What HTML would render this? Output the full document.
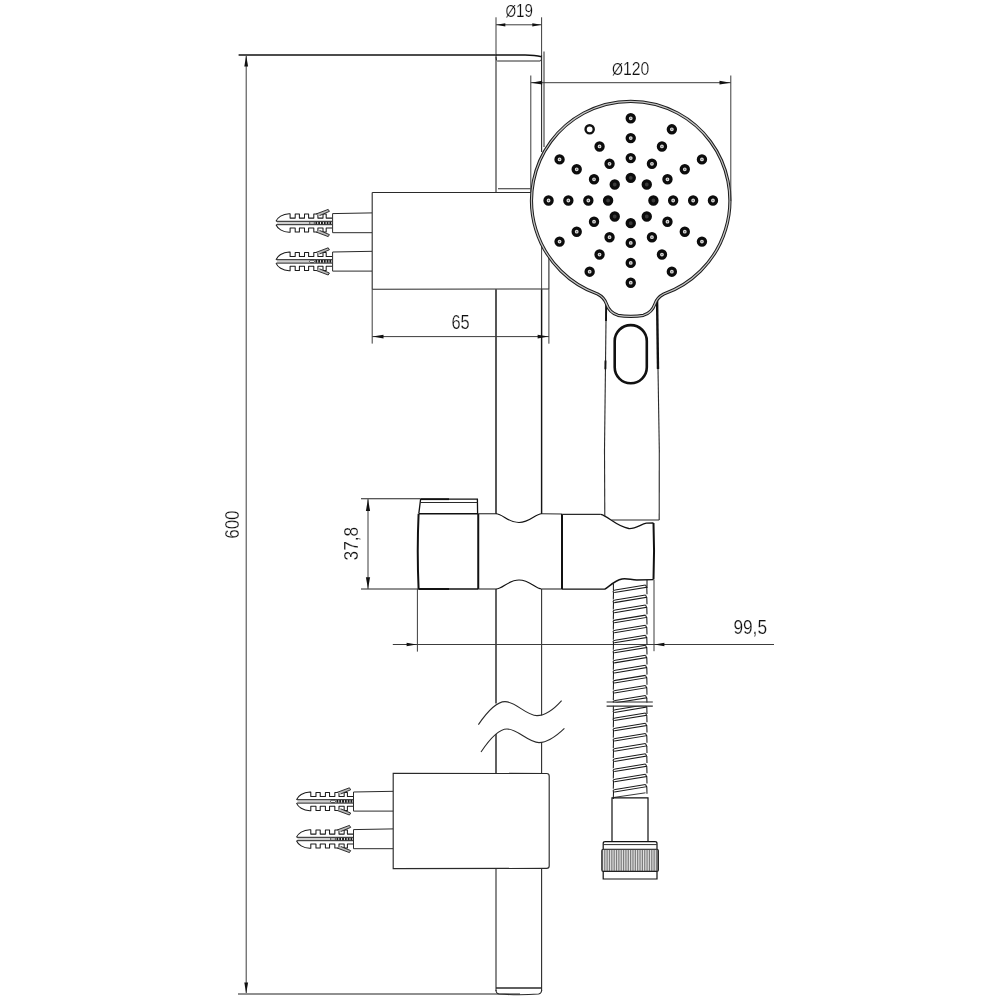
<!DOCTYPE html>
<html><head><meta charset="utf-8"><title>Shower rail set – dimensions</title>
<style>
html,body{margin:0;padding:0;background:#fff;}
svg{display:block}
text{font-family:"Liberation Sans",sans-serif;fill:#111;stroke:#fff;stroke-width:0.22px;paint-order:fill stroke;}
</style></head>
<body>
<svg width="1000" height="1000" viewBox="0 0 1000 1000" style="filter:grayscale(1)">
<rect width="1000" height="1000" fill="#fff"/>
<line x1="238.60" y1="55.00" x2="496.00" y2="55.00" stroke="#111" stroke-width="1.3" />
<line x1="238.00" y1="994.00" x2="520.00" y2="994.00" stroke="#222" stroke-width="1.1" />
<line x1="246.20" y1="56.00" x2="246.20" y2="993.00" stroke="#3c3c3c" stroke-width="1" />
<polygon points="246.20,55.50 248.10,66.50 244.30,66.50" fill="#111"/>
<polygon points="246.20,993.50 244.30,982.50 248.10,982.50" fill="#111"/>
<text x="238.80" y="524.60" font-size="19.5" text-anchor="middle" transform="rotate(-90 238.80 524.60)" textLength="28.4" lengthAdjust="spacingAndGlyphs">600</text>
<line x1="496.00" y1="17.30" x2="496.00" y2="55.00" stroke="#3c3c3c" stroke-width="1" />
<line x1="541.60" y1="17.30" x2="541.60" y2="55.00" stroke="#3c3c3c" stroke-width="1" />
<line x1="496.00" y1="24.80" x2="541.60" y2="24.80" stroke="#3c3c3c" stroke-width="1" />
<polygon points="496.30,24.80 505.30,23.20 505.30,26.40" fill="#111"/>
<polygon points="541.30,24.80 532.30,26.40 532.30,23.20" fill="#111"/>
<line x1="496.00" y1="55.00" x2="496.00" y2="192.50" stroke="#2a2a2a" stroke-width="1.1" />
<line x1="496.00" y1="289.20" x2="496.00" y2="514.00" stroke="#151515" stroke-width="1.45" />
<line x1="496.00" y1="589.00" x2="496.00" y2="703.50" stroke="#151515" stroke-width="1.35" />
<line x1="496.00" y1="734.00" x2="496.00" y2="773.00" stroke="#151515" stroke-width="1.35" />
<line x1="496.00" y1="868.50" x2="496.00" y2="991.00" stroke="#2a2a2a" stroke-width="1.1" />
<line x1="541.60" y1="55.00" x2="541.60" y2="152.00" stroke="#2a2a2a" stroke-width="1.1" />
<line x1="541.60" y1="245.50" x2="541.60" y2="289.20" stroke="#444" stroke-width="1.0" />
<line x1="541.60" y1="289.20" x2="541.60" y2="514.00" stroke="#151515" stroke-width="1.45" />
<line x1="541.60" y1="589.00" x2="541.60" y2="715.50" stroke="#333" stroke-width="1.1" />
<line x1="541.60" y1="742.80" x2="541.60" y2="773.00" stroke="#2a2a2a" stroke-width="1.1" />
<line x1="541.60" y1="868.50" x2="541.60" y2="991.00" stroke="#2a2a2a" stroke-width="1.1" />
<line x1="544.00" y1="51.50" x2="544.00" y2="147.00" stroke="#2a2a2a" stroke-width="1" />
<path d="M496.0 55 L525 55 Q535 55.2 541.5 56.8" stroke="#111" stroke-width="1.4" fill="none" />
<path d="M496.0 57 Q496.0 61 497.5 61 L540.1 61 Q541.6 61 541.6 57" stroke="#2a2a2a" stroke-width="1" fill="none" />
<line x1="496.00" y1="988.00" x2="541.60" y2="988.00" stroke="#2a2a2a" stroke-width="1.5" />
<path d="M496.0 990 Q496.0 993.5 499.0 994 Q519 995.5 538.6 994 Q541.6 993.5 541.6 990" stroke="#2a2a2a" stroke-width="1.1" fill="none" />
<line x1="372.20" y1="192.50" x2="530.80" y2="192.50" stroke="#2a2a2a" stroke-width="1.1" />
<line x1="498.00" y1="188.80" x2="530.50" y2="188.80" stroke="#2a2a2a" stroke-width="1.1" />
<line x1="372.20" y1="192.50" x2="372.20" y2="289.20" stroke="#2a2a2a" stroke-width="1.1" />
<line x1="372.20" y1="289.20" x2="548.90" y2="289.00" stroke="#2a2a2a" stroke-width="1.1" />
<line x1="548.90" y1="257.50" x2="548.90" y2="289.20" stroke="#2a2a2a" stroke-width="1.1" />
<line x1="372.20" y1="289.20" x2="372.20" y2="343.60" stroke="#3c3c3c" stroke-width="1" />
<line x1="548.90" y1="289.20" x2="548.90" y2="343.70" stroke="#3c3c3c" stroke-width="1" />
<line x1="372.20" y1="336.60" x2="548.90" y2="336.60" stroke="#3c3c3c" stroke-width="1" />
<polygon points="372.50,336.60 383.50,334.70 383.50,338.50" fill="#111"/>
<polygon points="548.60,336.60 537.60,338.50 537.60,334.70" fill="#111"/>
<text x="460.60" y="329.00" font-size="19.5" text-anchor="middle" textLength="18.2" lengthAdjust="spacingAndGlyphs">65</text>
<rect x="277.00" y="221.70" width="32.00" height="2.6" fill="#cfcfcf"/>
<path d="M276.00 221.30 C277.50 217.50 282.50 213.90 289.10 213.70 L290.10 213.70 L290.10 218.10 L295.20 218.10 L295.20 214.00 L299.40 214.00 L299.40 218.10 L304.50 218.10 L304.50 214.00 L308.60 214.00 L308.60 218.10 L313.80 218.10 L313.80 214.00 L317.90 214.00 L317.90 218.10 L323.00 218.10 L323.00 214.00 L326.20 214.00 L326.20 218.10 L332.20 218.10" stroke="#1c1c1c" stroke-width="1.05" fill="none" stroke-linejoin="round"/>
<path d="M316.00 214.00 L328.20 209.40 L329.40 211.40 L319.50 215.60" stroke="#1c1c1c" stroke-width="0.9" fill="#bbb" stroke-linejoin="round"/>
<line x1="276.30" y1="221.30" x2="332.20" y2="221.30" stroke="#1c1c1c" stroke-width="1.0" />
<path d="M276.00 224.70 C277.50 228.50 282.50 232.10 289.10 232.30 L290.10 232.30 L290.10 227.90 L295.20 227.90 L295.20 232.00 L299.40 232.00 L299.40 227.90 L304.50 227.90 L304.50 232.00 L308.60 232.00 L308.60 227.90 L313.80 227.90 L313.80 232.00 L317.90 232.00 L317.90 227.90 L323.00 227.90 L323.00 232.00 L326.20 232.00 L326.20 227.90 L332.20 227.90" stroke="#1c1c1c" stroke-width="1.05" fill="none" stroke-linejoin="round"/>
<path d="M316.00 232.00 L328.20 236.60 L329.40 234.60 L319.50 230.40" stroke="#1c1c1c" stroke-width="0.9" fill="#bbb" stroke-linejoin="round"/>
<line x1="276.30" y1="224.70" x2="332.20" y2="224.70" stroke="#1c1c1c" stroke-width="1.0" />
<line x1="315.40" y1="223.00" x2="332.20" y2="223.00" stroke="#1c1c1c" stroke-width="2.6" stroke-dasharray="1.9 0.9"/>
<rect x="309.50" y="221.80" width="5.00" height="2.4" rx="1.2" fill="#eee" stroke="#1c1c1c" stroke-width="0.8"/>
<line x1="332.60" y1="213.60" x2="372.00" y2="212.90" stroke="#2a2a2a" stroke-width="1.0" />
<line x1="332.60" y1="232.70" x2="372.00" y2="232.70" stroke="#2a2a2a" stroke-width="1.0" />
<line x1="332.60" y1="213.60" x2="332.60" y2="232.70" stroke="#2a2a2a" stroke-width="1.0" />
<rect x="277.00" y="260.10" width="32.00" height="2.6" fill="#cfcfcf"/>
<path d="M276.00 259.70 C277.50 255.90 282.50 252.30 289.10 252.10 L290.10 252.10 L290.10 256.50 L295.20 256.50 L295.20 252.40 L299.40 252.40 L299.40 256.50 L304.50 256.50 L304.50 252.40 L308.60 252.40 L308.60 256.50 L313.80 256.50 L313.80 252.40 L317.90 252.40 L317.90 256.50 L323.00 256.50 L323.00 252.40 L326.20 252.40 L326.20 256.50 L332.20 256.50" stroke="#1c1c1c" stroke-width="1.05" fill="none" stroke-linejoin="round"/>
<path d="M316.00 252.40 L328.20 247.80 L329.40 249.80 L319.50 254.00" stroke="#1c1c1c" stroke-width="0.9" fill="#bbb" stroke-linejoin="round"/>
<line x1="276.30" y1="259.70" x2="332.20" y2="259.70" stroke="#1c1c1c" stroke-width="1.0" />
<path d="M276.00 263.10 C277.50 266.90 282.50 270.50 289.10 270.70 L290.10 270.70 L290.10 266.30 L295.20 266.30 L295.20 270.40 L299.40 270.40 L299.40 266.30 L304.50 266.30 L304.50 270.40 L308.60 270.40 L308.60 266.30 L313.80 266.30 L313.80 270.40 L317.90 270.40 L317.90 266.30 L323.00 266.30 L323.00 270.40 L326.20 270.40 L326.20 266.30 L332.20 266.30" stroke="#1c1c1c" stroke-width="1.05" fill="none" stroke-linejoin="round"/>
<path d="M316.00 270.40 L328.20 275.00 L329.40 273.00 L319.50 268.80" stroke="#1c1c1c" stroke-width="0.9" fill="#bbb" stroke-linejoin="round"/>
<line x1="276.30" y1="263.10" x2="332.20" y2="263.10" stroke="#1c1c1c" stroke-width="1.0" />
<line x1="315.40" y1="261.40" x2="332.20" y2="261.40" stroke="#1c1c1c" stroke-width="2.6" stroke-dasharray="1.9 0.9"/>
<rect x="309.50" y="260.20" width="5.00" height="2.4" rx="1.2" fill="#eee" stroke="#1c1c1c" stroke-width="0.8"/>
<line x1="332.60" y1="252.00" x2="372.00" y2="251.30" stroke="#2a2a2a" stroke-width="1.0" />
<line x1="332.60" y1="271.10" x2="372.00" y2="271.10" stroke="#2a2a2a" stroke-width="1.0" />
<line x1="332.60" y1="252.00" x2="332.60" y2="271.10" stroke="#2a2a2a" stroke-width="1.0" />
<rect x="297.51" y="800.10" width="32.46" height="2.6" fill="#cfcfcf"/>
<path d="M296.50 799.70 C298.02 795.90 303.09 792.30 309.79 792.10 L310.80 792.10 L310.80 796.50 L315.97 796.50 L315.97 792.40 L320.23 792.40 L320.23 796.50 L325.41 796.50 L325.41 792.40 L329.56 792.40 L329.56 796.50 L334.84 796.50 L334.84 792.40 L339.00 792.40 L339.00 796.50 L344.17 796.50 L344.17 792.40 L347.41 792.40 L347.41 796.50 L353.50 796.50" stroke="#1c1c1c" stroke-width="1.05" fill="none" stroke-linejoin="round"/>
<path d="M337.07 792.40 L349.44 787.80 L350.66 789.80 L340.62 794.00" stroke="#1c1c1c" stroke-width="0.9" fill="#bbb" stroke-linejoin="round"/>
<line x1="296.80" y1="799.70" x2="353.50" y2="799.70" stroke="#1c1c1c" stroke-width="1.0" />
<path d="M296.50 803.10 C298.02 806.90 303.09 810.50 309.79 810.70 L310.80 810.70 L310.80 806.30 L315.97 806.30 L315.97 810.40 L320.23 810.40 L320.23 806.30 L325.41 806.30 L325.41 810.40 L329.56 810.40 L329.56 806.30 L334.84 806.30 L334.84 810.40 L339.00 810.40 L339.00 806.30 L344.17 806.30 L344.17 810.40 L347.41 810.40 L347.41 806.30 L353.50 806.30" stroke="#1c1c1c" stroke-width="1.05" fill="none" stroke-linejoin="round"/>
<path d="M337.07 810.40 L349.44 815.00 L350.66 813.00 L340.62 808.80" stroke="#1c1c1c" stroke-width="0.9" fill="#bbb" stroke-linejoin="round"/>
<line x1="296.80" y1="803.10" x2="353.50" y2="803.10" stroke="#1c1c1c" stroke-width="1.0" />
<line x1="336.46" y1="801.40" x2="353.50" y2="801.40" stroke="#1c1c1c" stroke-width="2.6" stroke-dasharray="1.9 0.9"/>
<rect x="330.48" y="800.20" width="5.07" height="2.4" rx="1.2" fill="#eee" stroke="#1c1c1c" stroke-width="0.8"/>
<line x1="353.50" y1="792.00" x2="393.10" y2="791.30" stroke="#2a2a2a" stroke-width="1.0" />
<line x1="353.50" y1="811.10" x2="393.10" y2="811.10" stroke="#2a2a2a" stroke-width="1.0" />
<line x1="353.50" y1="792.00" x2="353.50" y2="811.10" stroke="#2a2a2a" stroke-width="1.0" />
<rect x="297.51" y="837.70" width="32.46" height="2.6" fill="#cfcfcf"/>
<path d="M296.50 837.30 C298.02 833.50 303.09 829.90 309.79 829.70 L310.80 829.70 L310.80 834.10 L315.97 834.10 L315.97 830.00 L320.23 830.00 L320.23 834.10 L325.41 834.10 L325.41 830.00 L329.56 830.00 L329.56 834.10 L334.84 834.10 L334.84 830.00 L339.00 830.00 L339.00 834.10 L344.17 834.10 L344.17 830.00 L347.41 830.00 L347.41 834.10 L353.50 834.10" stroke="#1c1c1c" stroke-width="1.05" fill="none" stroke-linejoin="round"/>
<path d="M337.07 830.00 L349.44 825.40 L350.66 827.40 L340.62 831.60" stroke="#1c1c1c" stroke-width="0.9" fill="#bbb" stroke-linejoin="round"/>
<line x1="296.80" y1="837.30" x2="353.50" y2="837.30" stroke="#1c1c1c" stroke-width="1.0" />
<path d="M296.50 840.70 C298.02 844.50 303.09 848.10 309.79 848.30 L310.80 848.30 L310.80 843.90 L315.97 843.90 L315.97 848.00 L320.23 848.00 L320.23 843.90 L325.41 843.90 L325.41 848.00 L329.56 848.00 L329.56 843.90 L334.84 843.90 L334.84 848.00 L339.00 848.00 L339.00 843.90 L344.17 843.90 L344.17 848.00 L347.41 848.00 L347.41 843.90 L353.50 843.90" stroke="#1c1c1c" stroke-width="1.05" fill="none" stroke-linejoin="round"/>
<path d="M337.07 848.00 L349.44 852.60 L350.66 850.60 L340.62 846.40" stroke="#1c1c1c" stroke-width="0.9" fill="#bbb" stroke-linejoin="round"/>
<line x1="296.80" y1="840.70" x2="353.50" y2="840.70" stroke="#1c1c1c" stroke-width="1.0" />
<line x1="336.46" y1="839.00" x2="353.50" y2="839.00" stroke="#1c1c1c" stroke-width="2.6" stroke-dasharray="1.9 0.9"/>
<rect x="330.48" y="837.80" width="5.07" height="2.4" rx="1.2" fill="#eee" stroke="#1c1c1c" stroke-width="0.8"/>
<line x1="353.50" y1="829.60" x2="393.10" y2="828.90" stroke="#2a2a2a" stroke-width="1.0" />
<line x1="353.50" y1="848.70" x2="393.10" y2="848.70" stroke="#2a2a2a" stroke-width="1.0" />
<line x1="353.50" y1="829.60" x2="353.50" y2="848.70" stroke="#2a2a2a" stroke-width="1.0" />
<path d="M393.2 773.3 L546.7 773.5 Q549.2 773.5 549.2 776 L549.2 866 Q549.2 868.4 546.7 868.4 L393.2 868.6 Z" stroke="#2a2a2a" stroke-width="1.15" fill="none" />
<path d="M478.4 724.6 C487 712 496 701.6 505 701.6 C516 701.6 526 715.6 537 715.6 C546 715.6 555 708 561.6 700.6" stroke="#2a2a2a" stroke-width="1.1" fill="none" />
<path d="M481 752 C489 740 498 729 507 729 C518 729 528 742.6 539 742.6 C548 742.6 557 735.5 564.4 728.4" stroke="#2a2a2a" stroke-width="1.1" fill="none" />
<line x1="361.00" y1="498.75" x2="420.00" y2="498.75" stroke="#222" stroke-width="1" />
<line x1="361.00" y1="589.00" x2="419.00" y2="589.00" stroke="#222" stroke-width="1" />
<line x1="368.00" y1="499.00" x2="368.00" y2="589.00" stroke="#3c3c3c" stroke-width="1" />
<polygon points="368.00,499.00 370.10,511.00 365.90,511.00" fill="#111"/>
<polygon points="368.00,588.80 365.90,577.30 370.10,577.30" fill="#111"/>
<text x="358.30" y="543.60" font-size="19.5" text-anchor="middle" transform="rotate(-90 358.30 543.60)" textLength="33.6" lengthAdjust="spacingAndGlyphs">37,8</text>
<path d="M418.8 513.7 L420.6 499.2 L477.4 499.2 L477.6 513.7" stroke="#111" stroke-width="1.3" fill="none" />
<line x1="420.60" y1="499.20" x2="449.00" y2="499.20" stroke="#111" stroke-width="1.8" />
<line x1="418.60" y1="589.00" x2="449.00" y2="589.00" stroke="#111" stroke-width="1.9" />
<line x1="420.30" y1="502.50" x2="477.50" y2="502.50" stroke="#2a2a2a" stroke-width="1.1" />
<line x1="419.00" y1="513.75" x2="478.25" y2="513.75" stroke="#111" stroke-width="1.6" />
<path d="M418.6 513.7 Q416.9 551 418.6 589" stroke="#111" stroke-width="2" fill="none" />
<line x1="478.25" y1="513.75" x2="478.25" y2="589.00" stroke="#111" stroke-width="2" />
<line x1="418.75" y1="589.00" x2="478.25" y2="589.00" stroke="#111" stroke-width="1.4" />
<line x1="478.25" y1="513.75" x2="496.00" y2="513.75" stroke="#2a2a2a" stroke-width="1.1" />
<path d="M496.0 513.75 C503 514 508 522.5 519 522.5 C530 522.5 535 514 541.6 513.75" stroke="#111" stroke-width="1.2" fill="none" />
<line x1="541.60" y1="513.75" x2="562.00" y2="514.00" stroke="#2a2a2a" stroke-width="1.1" />
<line x1="478.25" y1="589.00" x2="496.00" y2="589.00" stroke="#2a2a2a" stroke-width="1.1" />
<path d="M496.0 589 C503 588.8 508 580 519 580 C530 580 535 588.8 541.6 589" stroke="#111" stroke-width="1.2" fill="none" />
<line x1="541.60" y1="589.00" x2="562.00" y2="589.00" stroke="#2a2a2a" stroke-width="1.1" />
<line x1="562.00" y1="514.00" x2="562.00" y2="589.00" stroke="#111" stroke-width="2" />
<line x1="562.00" y1="514.40" x2="600.80" y2="514.40" stroke="#2a2a2a" stroke-width="1.1" />
<path d="M600.8 514.4 C608 516 616 526 628.8 528.5 C636 529 641 524 646.4 523.2 L653.5 523" stroke="#111" stroke-width="1.3" fill="none" />
<path d="M653.5 523 Q654.6 551 653.5 579.5" stroke="#111" stroke-width="2" fill="none" />
<path d="M653.5 579.6 L636.8 580 C630 579.5 626 578.2 622 579 C614 580.5 609 587 604.8 589.1 L562 589.1" stroke="#111" stroke-width="1.4" fill="none" />
<line x1="417.40" y1="589.00" x2="417.40" y2="651.60" stroke="#3c3c3c" stroke-width="1" />
<line x1="654.00" y1="580.00" x2="654.00" y2="651.20" stroke="#3c3c3c" stroke-width="1" />
<line x1="392.80" y1="644.50" x2="774.00" y2="644.50" stroke="#3c3c3c" stroke-width="1" />
<polygon points="416.60,644.50 406.60,646.20 406.60,642.80" fill="#111"/>
<polygon points="654.40,644.50 664.40,642.80 664.40,646.20" fill="#111"/>
<text x="750.20" y="634.20" font-size="19.5" text-anchor="middle" textLength="33.6" lengthAdjust="spacingAndGlyphs">99,5</text>
<line x1="606.20" y1="304.00" x2="604.50" y2="450.00" stroke="#2a2a2a" stroke-width="1.1" />
<line x1="606.20" y1="304.00" x2="606.00" y2="321.00" stroke="#111" stroke-width="1.9" />
<line x1="605.50" y1="360.40" x2="605.40" y2="369.20" stroke="#111" stroke-width="1.9" />
<line x1="604.50" y1="450.00" x2="604.80" y2="516.00" stroke="#2a2a2a" stroke-width="1.1" />
<line x1="657.10" y1="301.00" x2="658.00" y2="369.00" stroke="#111" stroke-width="2.4" />
<line x1="658.00" y1="369.00" x2="659.30" y2="450.00" stroke="#2a2a2a" stroke-width="1.1" />
<line x1="659.30" y1="450.00" x2="659.20" y2="520.00" stroke="#2a2a2a" stroke-width="1.1" />
<line x1="611.50" y1="520.00" x2="659.20" y2="520.00" stroke="#2a2a2a" stroke-width="1.1" />
<rect x="614.7" y="325.1" width="32.1" height="58.2" rx="16" ry="16" fill="none" stroke="#111" stroke-width="2.6"/>
<path d="M597.59 294.01 A99.20 99.20 0 1 1 663.81 294.01 C659.90 296 656.40 299.5 654.80 304.2 C653.20 309 650.40 313 643.40 315.3 C639.40 316 635.40 316.3 630.70 316.3 C626 316.3 622 316 618 315.3 C611 313 608.2 309 606.6 304.2 C605 299.5 601.5 296 597.59 294.01 Z" stroke="#1c1c1c" stroke-width="3.2" fill="none" />
<path d="M597.59 294.01 A99.20 99.20 0 1 1 663.81 294.01 C659.90 296 656.40 299.5 654.80 304.2 C653.20 309 650.40 313 643.40 315.3 C639.40 316 635.40 316.3 630.70 316.3 C626 316.3 622 316 618 315.3 C611 313 608.2 309 606.6 304.2 C605 299.5 601.5 296 597.59 294.01 Z" stroke="#c4c4c4" stroke-width="1.2" fill="none" />
<line x1="530.80" y1="75.50" x2="530.80" y2="192.00" stroke="#3c3c3c" stroke-width="1" />
<line x1="730.80" y1="75.50" x2="730.80" y2="201.00" stroke="#3c3c3c" stroke-width="1" />
<line x1="530.80" y1="82.70" x2="730.80" y2="82.70" stroke="#3c3c3c" stroke-width="1" />
<polygon points="531.10,82.70 542.10,80.80 542.10,84.60" fill="#111"/>
<polygon points="730.50,82.70 719.50,84.60 719.50,80.80" fill="#111"/>
<circle cx="653.40" cy="200.50" r="3.55" fill="#3a3a3a" stroke="#0c0c0c" stroke-width="3.3"/>
<circle cx="646.77" cy="184.48" r="3.55" fill="#3a3a3a" stroke="#0c0c0c" stroke-width="3.3"/>
<circle cx="630.75" cy="177.85" r="3.55" fill="#3a3a3a" stroke="#0c0c0c" stroke-width="3.3"/>
<circle cx="614.73" cy="184.48" r="3.55" fill="#3a3a3a" stroke="#0c0c0c" stroke-width="3.3"/>
<circle cx="608.10" cy="200.50" r="3.55" fill="#3a3a3a" stroke="#0c0c0c" stroke-width="3.3"/>
<circle cx="614.73" cy="216.52" r="3.55" fill="#3a3a3a" stroke="#0c0c0c" stroke-width="3.3"/>
<circle cx="630.75" cy="223.15" r="3.55" fill="#3a3a3a" stroke="#0c0c0c" stroke-width="3.3"/>
<circle cx="646.77" cy="216.52" r="3.55" fill="#3a3a3a" stroke="#0c0c0c" stroke-width="3.3"/>
<circle cx="673.15" cy="200.50" r="3.55" fill="#dcdcdc" stroke="#0c0c0c" stroke-width="3.3"/>
<circle cx="673.15" cy="200.50" r="0.7" fill="#666"/>
<circle cx="667.47" cy="179.30" r="3.55" fill="#dcdcdc" stroke="#0c0c0c" stroke-width="3.3"/>
<circle cx="667.47" cy="179.30" r="0.7" fill="#666"/>
<circle cx="651.95" cy="163.78" r="3.55" fill="#dcdcdc" stroke="#0c0c0c" stroke-width="3.3"/>
<circle cx="651.95" cy="163.78" r="0.7" fill="#666"/>
<circle cx="630.75" cy="158.10" r="3.55" fill="#dcdcdc" stroke="#0c0c0c" stroke-width="3.3"/>
<circle cx="630.75" cy="158.10" r="0.7" fill="#666"/>
<circle cx="609.55" cy="163.78" r="3.55" fill="#dcdcdc" stroke="#0c0c0c" stroke-width="3.3"/>
<circle cx="609.55" cy="163.78" r="0.7" fill="#666"/>
<circle cx="594.03" cy="179.30" r="3.55" fill="#dcdcdc" stroke="#0c0c0c" stroke-width="3.3"/>
<circle cx="594.03" cy="179.30" r="0.7" fill="#666"/>
<circle cx="588.35" cy="200.50" r="3.55" fill="#dcdcdc" stroke="#0c0c0c" stroke-width="3.3"/>
<circle cx="588.35" cy="200.50" r="0.7" fill="#666"/>
<circle cx="594.03" cy="221.70" r="3.55" fill="#dcdcdc" stroke="#0c0c0c" stroke-width="3.3"/>
<circle cx="594.03" cy="221.70" r="0.7" fill="#666"/>
<circle cx="609.55" cy="237.22" r="3.55" fill="#dcdcdc" stroke="#0c0c0c" stroke-width="3.3"/>
<circle cx="609.55" cy="237.22" r="0.7" fill="#666"/>
<circle cx="630.75" cy="242.90" r="3.55" fill="#dcdcdc" stroke="#0c0c0c" stroke-width="3.3"/>
<circle cx="630.75" cy="242.90" r="0.7" fill="#666"/>
<circle cx="651.95" cy="237.22" r="3.55" fill="#dcdcdc" stroke="#0c0c0c" stroke-width="3.3"/>
<circle cx="651.95" cy="237.22" r="0.7" fill="#666"/>
<circle cx="667.47" cy="221.70" r="3.55" fill="#dcdcdc" stroke="#0c0c0c" stroke-width="3.3"/>
<circle cx="667.47" cy="221.70" r="0.7" fill="#666"/>
<circle cx="693.15" cy="200.50" r="3.55" fill="#dcdcdc" stroke="#0c0c0c" stroke-width="3.3"/>
<circle cx="693.15" cy="200.50" r="0.7" fill="#666"/>
<circle cx="684.79" cy="169.30" r="3.55" fill="#dcdcdc" stroke="#0c0c0c" stroke-width="3.3"/>
<circle cx="684.79" cy="169.30" r="0.7" fill="#666"/>
<circle cx="661.95" cy="146.46" r="3.55" fill="#dcdcdc" stroke="#0c0c0c" stroke-width="3.3"/>
<circle cx="661.95" cy="146.46" r="0.7" fill="#666"/>
<circle cx="630.75" cy="138.10" r="3.55" fill="#dcdcdc" stroke="#0c0c0c" stroke-width="3.3"/>
<circle cx="630.75" cy="138.10" r="0.7" fill="#666"/>
<circle cx="599.55" cy="146.46" r="3.55" fill="#dcdcdc" stroke="#0c0c0c" stroke-width="3.3"/>
<circle cx="599.55" cy="146.46" r="0.7" fill="#666"/>
<circle cx="576.71" cy="169.30" r="3.55" fill="#dcdcdc" stroke="#0c0c0c" stroke-width="3.3"/>
<circle cx="576.71" cy="169.30" r="0.7" fill="#666"/>
<circle cx="568.35" cy="200.50" r="3.55" fill="#dcdcdc" stroke="#0c0c0c" stroke-width="3.3"/>
<circle cx="568.35" cy="200.50" r="0.7" fill="#666"/>
<circle cx="576.71" cy="231.70" r="3.55" fill="#dcdcdc" stroke="#0c0c0c" stroke-width="3.3"/>
<circle cx="576.71" cy="231.70" r="0.7" fill="#666"/>
<circle cx="599.55" cy="254.54" r="3.55" fill="#dcdcdc" stroke="#0c0c0c" stroke-width="3.3"/>
<circle cx="599.55" cy="254.54" r="0.7" fill="#666"/>
<circle cx="630.75" cy="262.90" r="3.55" fill="#dcdcdc" stroke="#0c0c0c" stroke-width="3.3"/>
<circle cx="630.75" cy="262.90" r="0.7" fill="#666"/>
<circle cx="661.95" cy="254.54" r="3.55" fill="#dcdcdc" stroke="#0c0c0c" stroke-width="3.3"/>
<circle cx="661.95" cy="254.54" r="0.7" fill="#666"/>
<circle cx="684.79" cy="231.70" r="3.55" fill="#dcdcdc" stroke="#0c0c0c" stroke-width="3.3"/>
<circle cx="684.79" cy="231.70" r="0.7" fill="#666"/>
<circle cx="712.95" cy="200.50" r="3.55" fill="#dcdcdc" stroke="#0c0c0c" stroke-width="3.3"/>
<circle cx="712.95" cy="200.50" r="0.7" fill="#666"/>
<circle cx="701.94" cy="159.40" r="3.55" fill="#dcdcdc" stroke="#0c0c0c" stroke-width="3.3"/>
<circle cx="701.94" cy="159.40" r="0.7" fill="#666"/>
<circle cx="671.85" cy="129.31" r="3.55" fill="#dcdcdc" stroke="#0c0c0c" stroke-width="3.3"/>
<circle cx="671.85" cy="129.31" r="0.7" fill="#666"/>
<circle cx="630.75" cy="118.30" r="3.55" fill="#dcdcdc" stroke="#0c0c0c" stroke-width="3.3"/>
<circle cx="630.75" cy="118.30" r="0.7" fill="#666"/>
<circle cx="589.65" cy="129.31" r="4.1" fill="#fff" stroke="#111" stroke-width="2.4"/>
<circle cx="559.56" cy="159.40" r="3.55" fill="#dcdcdc" stroke="#0c0c0c" stroke-width="3.3"/>
<circle cx="559.56" cy="159.40" r="0.7" fill="#666"/>
<circle cx="548.55" cy="200.50" r="3.55" fill="#dcdcdc" stroke="#0c0c0c" stroke-width="3.3"/>
<circle cx="548.55" cy="200.50" r="0.7" fill="#666"/>
<circle cx="559.56" cy="241.60" r="3.55" fill="#dcdcdc" stroke="#0c0c0c" stroke-width="3.3"/>
<circle cx="559.56" cy="241.60" r="0.7" fill="#666"/>
<circle cx="589.65" cy="271.69" r="3.55" fill="#dcdcdc" stroke="#0c0c0c" stroke-width="3.3"/>
<circle cx="589.65" cy="271.69" r="0.7" fill="#666"/>
<circle cx="630.75" cy="282.70" r="3.55" fill="#dcdcdc" stroke="#0c0c0c" stroke-width="3.3"/>
<circle cx="630.75" cy="282.70" r="0.7" fill="#666"/>
<circle cx="671.85" cy="271.69" r="3.55" fill="#dcdcdc" stroke="#0c0c0c" stroke-width="3.3"/>
<circle cx="671.85" cy="271.69" r="0.7" fill="#666"/>
<circle cx="701.94" cy="241.60" r="3.55" fill="#dcdcdc" stroke="#0c0c0c" stroke-width="3.3"/>
<circle cx="701.94" cy="241.60" r="0.7" fill="#666"/>
<g>
<path d="M614.40 592.60 C612.50 592.30 612.70 590.20 615.20 590.00 L645.50 585.00" stroke="#1a1a1a" stroke-width="1.05" fill="none" />
<path d="M614.40 592.60 L646.60 587.30 L645.50 585.00" stroke="#1a1a1a" stroke-width="1.05" fill="none" />
<line x1="613.50" y1="592.40" x2="613.30" y2="599.50" stroke="#1a1a1a" stroke-width="1.05" />
<line x1="646.80" y1="587.40" x2="647.00" y2="594.30" stroke="#1a1a1a" stroke-width="1.05" />
<path d="M614.40 602.64 C612.50 602.34 612.70 600.24 615.20 600.04 L645.50 595.04" stroke="#1a1a1a" stroke-width="1.05" fill="none" />
<path d="M614.40 602.64 L646.60 597.34 L645.50 595.04" stroke="#1a1a1a" stroke-width="1.05" fill="none" />
<line x1="613.50" y1="602.44" x2="613.30" y2="609.54" stroke="#1a1a1a" stroke-width="1.05" />
<line x1="646.80" y1="597.44" x2="647.00" y2="604.34" stroke="#1a1a1a" stroke-width="1.05" />
<path d="M614.40 612.68 C612.50 612.38 612.70 610.28 615.20 610.08 L645.50 605.08" stroke="#1a1a1a" stroke-width="1.05" fill="none" />
<path d="M614.40 612.68 L646.60 607.38 L645.50 605.08" stroke="#1a1a1a" stroke-width="1.05" fill="none" />
<line x1="613.50" y1="612.48" x2="613.30" y2="619.58" stroke="#1a1a1a" stroke-width="1.05" />
<line x1="646.80" y1="607.48" x2="647.00" y2="614.38" stroke="#1a1a1a" stroke-width="1.05" />
<path d="M614.40 622.72 C612.50 622.42 612.70 620.32 615.20 620.12 L645.50 615.12" stroke="#1a1a1a" stroke-width="1.05" fill="none" />
<path d="M614.40 622.72 L646.60 617.42 L645.50 615.12" stroke="#1a1a1a" stroke-width="1.05" fill="none" />
<line x1="613.50" y1="622.52" x2="613.30" y2="629.62" stroke="#1a1a1a" stroke-width="1.05" />
<line x1="646.80" y1="617.52" x2="647.00" y2="624.42" stroke="#1a1a1a" stroke-width="1.05" />
<path d="M614.40 632.76 C612.50 632.46 612.70 630.36 615.20 630.16 L645.50 625.16" stroke="#1a1a1a" stroke-width="1.05" fill="none" />
<path d="M614.40 632.76 L646.60 627.46 L645.50 625.16" stroke="#1a1a1a" stroke-width="1.05" fill="none" />
<line x1="613.50" y1="632.56" x2="613.30" y2="639.66" stroke="#1a1a1a" stroke-width="1.05" />
<line x1="646.80" y1="627.56" x2="647.00" y2="634.46" stroke="#1a1a1a" stroke-width="1.05" />
<path d="M614.40 642.80 C612.50 642.50 612.70 640.40 615.20 640.20 L645.50 635.20" stroke="#1a1a1a" stroke-width="1.05" fill="none" />
<path d="M614.40 642.80 L646.60 637.50 L645.50 635.20" stroke="#1a1a1a" stroke-width="1.05" fill="none" />
<line x1="613.50" y1="642.60" x2="613.30" y2="649.70" stroke="#1a1a1a" stroke-width="1.05" />
<line x1="646.80" y1="637.60" x2="647.00" y2="644.50" stroke="#1a1a1a" stroke-width="1.05" />
<path d="M614.40 652.84 C612.50 652.54 612.70 650.44 615.20 650.24 L645.50 645.24" stroke="#1a1a1a" stroke-width="1.05" fill="none" />
<path d="M614.40 652.84 L646.60 647.54 L645.50 645.24" stroke="#1a1a1a" stroke-width="1.05" fill="none" />
<line x1="613.50" y1="652.64" x2="613.30" y2="659.74" stroke="#1a1a1a" stroke-width="1.05" />
<line x1="646.80" y1="647.64" x2="647.00" y2="654.54" stroke="#1a1a1a" stroke-width="1.05" />
<path d="M614.40 662.88 C612.50 662.58 612.70 660.48 615.20 660.28 L645.50 655.28" stroke="#1a1a1a" stroke-width="1.05" fill="none" />
<path d="M614.40 662.88 L646.60 657.58 L645.50 655.28" stroke="#1a1a1a" stroke-width="1.05" fill="none" />
<line x1="613.50" y1="662.68" x2="613.30" y2="669.78" stroke="#1a1a1a" stroke-width="1.05" />
<line x1="646.80" y1="657.68" x2="647.00" y2="664.58" stroke="#1a1a1a" stroke-width="1.05" />
<path d="M614.40 672.92 C612.50 672.62 612.70 670.52 615.20 670.32 L645.50 665.32" stroke="#1a1a1a" stroke-width="1.05" fill="none" />
<path d="M614.40 672.92 L646.60 667.62 L645.50 665.32" stroke="#1a1a1a" stroke-width="1.05" fill="none" />
<line x1="613.50" y1="672.72" x2="613.30" y2="679.82" stroke="#1a1a1a" stroke-width="1.05" />
<line x1="646.80" y1="667.72" x2="647.00" y2="674.62" stroke="#1a1a1a" stroke-width="1.05" />
<path d="M614.40 682.96 C612.50 682.66 612.70 680.56 615.20 680.36 L645.50 675.36" stroke="#1a1a1a" stroke-width="1.05" fill="none" />
<path d="M614.40 682.96 L646.60 677.66 L645.50 675.36" stroke="#1a1a1a" stroke-width="1.05" fill="none" />
<line x1="613.50" y1="682.76" x2="613.30" y2="689.86" stroke="#1a1a1a" stroke-width="1.05" />
<line x1="646.80" y1="677.76" x2="647.00" y2="684.66" stroke="#1a1a1a" stroke-width="1.05" />
<path d="M614.40 693.00 C612.50 692.70 612.70 690.60 615.20 690.40 L645.50 685.40" stroke="#1a1a1a" stroke-width="1.05" fill="none" />
<path d="M614.40 693.00 L646.60 687.70 L645.50 685.40" stroke="#1a1a1a" stroke-width="1.05" fill="none" />
<line x1="613.50" y1="692.80" x2="613.30" y2="699.90" stroke="#1a1a1a" stroke-width="1.05" />
<line x1="646.80" y1="687.80" x2="647.00" y2="694.70" stroke="#1a1a1a" stroke-width="1.05" />
<path d="M614.40 703.04 C612.50 702.74 612.70 700.64 615.20 700.44 L645.50 695.44" stroke="#1a1a1a" stroke-width="1.05" fill="none" />
<path d="M614.40 703.04 L646.60 697.74 L645.50 695.44" stroke="#1a1a1a" stroke-width="1.05" fill="none" />
<line x1="613.50" y1="702.84" x2="613.30" y2="709.94" stroke="#1a1a1a" stroke-width="1.05" />
<line x1="646.80" y1="697.84" x2="647.00" y2="704.74" stroke="#1a1a1a" stroke-width="1.05" />
<path d="M614.40 720.60 C612.50 720.30 612.70 718.20 615.20 718.00 L645.50 713.00" stroke="#1a1a1a" stroke-width="1.05" fill="none" />
<path d="M614.40 720.60 L646.60 715.30 L645.50 713.00" stroke="#1a1a1a" stroke-width="1.05" fill="none" />
<line x1="613.50" y1="720.40" x2="613.30" y2="727.50" stroke="#1a1a1a" stroke-width="1.05" />
<line x1="646.80" y1="715.40" x2="647.00" y2="722.30" stroke="#1a1a1a" stroke-width="1.05" />
<path d="M614.40 730.80 C612.50 730.50 612.70 728.40 615.20 728.20 L645.50 723.20" stroke="#1a1a1a" stroke-width="1.05" fill="none" />
<path d="M614.40 730.80 L646.60 725.50 L645.50 723.20" stroke="#1a1a1a" stroke-width="1.05" fill="none" />
<line x1="613.50" y1="730.60" x2="613.30" y2="737.70" stroke="#1a1a1a" stroke-width="1.05" />
<line x1="646.80" y1="725.60" x2="647.00" y2="732.50" stroke="#1a1a1a" stroke-width="1.05" />
<path d="M614.40 741.00 C612.50 740.70 612.70 738.60 615.20 738.40 L645.50 733.40" stroke="#1a1a1a" stroke-width="1.05" fill="none" />
<path d="M614.40 741.00 L646.60 735.70 L645.50 733.40" stroke="#1a1a1a" stroke-width="1.05" fill="none" />
<line x1="613.50" y1="740.80" x2="613.30" y2="747.90" stroke="#1a1a1a" stroke-width="1.05" />
<line x1="646.80" y1="735.80" x2="647.00" y2="742.70" stroke="#1a1a1a" stroke-width="1.05" />
<path d="M614.40 751.20 C612.50 750.90 612.70 748.80 615.20 748.60 L645.50 743.60" stroke="#1a1a1a" stroke-width="1.05" fill="none" />
<path d="M614.40 751.20 L646.60 745.90 L645.50 743.60" stroke="#1a1a1a" stroke-width="1.05" fill="none" />
<line x1="613.50" y1="751.00" x2="613.30" y2="758.10" stroke="#1a1a1a" stroke-width="1.05" />
<line x1="646.80" y1="746.00" x2="647.00" y2="752.90" stroke="#1a1a1a" stroke-width="1.05" />
<path d="M614.40 761.40 C612.50 761.10 612.70 759.00 615.20 758.80 L645.50 753.80" stroke="#1a1a1a" stroke-width="1.05" fill="none" />
<path d="M614.40 761.40 L646.60 756.10 L645.50 753.80" stroke="#1a1a1a" stroke-width="1.05" fill="none" />
<line x1="613.50" y1="761.20" x2="613.30" y2="768.30" stroke="#1a1a1a" stroke-width="1.05" />
<line x1="646.80" y1="756.20" x2="647.00" y2="763.10" stroke="#1a1a1a" stroke-width="1.05" />
<path d="M614.40 771.60 C612.50 771.30 612.70 769.20 615.20 769.00 L645.50 764.00" stroke="#1a1a1a" stroke-width="1.05" fill="none" />
<path d="M614.40 771.60 L646.60 766.30 L645.50 764.00" stroke="#1a1a1a" stroke-width="1.05" fill="none" />
<line x1="613.50" y1="771.40" x2="613.30" y2="778.50" stroke="#1a1a1a" stroke-width="1.05" />
<line x1="646.80" y1="766.40" x2="647.00" y2="773.30" stroke="#1a1a1a" stroke-width="1.05" />
<path d="M614.40 781.80 C612.50 781.50 612.70 779.40 615.20 779.20 L645.50 774.20" stroke="#1a1a1a" stroke-width="1.05" fill="none" />
<path d="M614.40 781.80 L646.60 776.50 L645.50 774.20" stroke="#1a1a1a" stroke-width="1.05" fill="none" />
<line x1="613.50" y1="781.60" x2="613.30" y2="788.70" stroke="#1a1a1a" stroke-width="1.05" />
<line x1="646.80" y1="776.60" x2="647.00" y2="783.50" stroke="#1a1a1a" stroke-width="1.05" />
<path d="M614.40 792.00 C612.50 791.70 612.70 789.60 615.20 789.40 L645.50 784.40" stroke="#1a1a1a" stroke-width="1.05" fill="none" />
<path d="M614.40 792.00 L646.60 786.70 L645.50 784.40" stroke="#1a1a1a" stroke-width="1.05" fill="none" />
<line x1="613.50" y1="791.80" x2="613.30" y2="798.90" stroke="#1a1a1a" stroke-width="1.05" />
<line x1="646.80" y1="786.80" x2="647.00" y2="793.70" stroke="#1a1a1a" stroke-width="1.05" />
</g>
<path d="M614.40 712.40 C612.50 712.10 612.70 710.00 615.20 709.80 L645.50 704.80" stroke="#1a1a1a" stroke-width="1.05" fill="none" />
<path d="M614.40 712.40 L646.60 707.10 L645.50 704.80" stroke="#1a1a1a" stroke-width="1.05" fill="none" />
<line x1="613.50" y1="712.20" x2="613.30" y2="719.30" stroke="#1a1a1a" stroke-width="1.05" />
<line x1="646.80" y1="707.20" x2="647.00" y2="714.10" stroke="#1a1a1a" stroke-width="1.05" />
<line x1="614.20" y1="797.40" x2="645.50" y2="792.80" stroke="#222" stroke-width="0.9" />
<rect x="606" y="702.6" width="48" height="3.2" fill="#fff"/>
<line x1="613.40" y1="583.50" x2="613.40" y2="590.00" stroke="#1a1a1a" stroke-width="1.05" />
<line x1="647.00" y1="580.00" x2="647.00" y2="588.00" stroke="#1a1a1a" stroke-width="1.05" />
<line x1="606.60" y1="702.00" x2="652.80" y2="702.00" stroke="#2a2a2a" stroke-width="1.2" />
<line x1="606.60" y1="706.20" x2="652.80" y2="706.20" stroke="#2a2a2a" stroke-width="1.2" />
<path d="M612 841.4 L612 797.8 L648 797.8 L648 841.4" stroke="#111" stroke-width="1.2" fill="none" />
<path d="M603.2 849.2 L603.2 843.4 Q603.2 841.6 605.2 841.6 L655 841.6 Q657 841.6 657 843.4 L657 849.2" stroke="#111" stroke-width="1.2" fill="none" />
<line x1="603.40" y1="844.60" x2="656.80" y2="844.60" stroke="#2a2a2a" stroke-width="1" />
<rect x="601.8" y="849.2" width="56.6" height="22.2" rx="1.5" fill="#7c7c7c" stroke="#222" stroke-width="1.1"/>
<line x1="603.60" y1="850.00" x2="603.60" y2="870.60" stroke="#e2e2e2" stroke-width="1.15" />
<line x1="605.95" y1="850.00" x2="605.95" y2="870.60" stroke="#e2e2e2" stroke-width="1.15" />
<line x1="608.30" y1="850.00" x2="608.30" y2="870.60" stroke="#e2e2e2" stroke-width="1.15" />
<line x1="610.65" y1="850.00" x2="610.65" y2="870.60" stroke="#e2e2e2" stroke-width="1.15" />
<line x1="613.00" y1="850.00" x2="613.00" y2="870.60" stroke="#e2e2e2" stroke-width="1.15" />
<line x1="615.35" y1="850.00" x2="615.35" y2="870.60" stroke="#e2e2e2" stroke-width="1.15" />
<line x1="617.70" y1="850.00" x2="617.70" y2="870.60" stroke="#e2e2e2" stroke-width="1.15" />
<line x1="620.05" y1="850.00" x2="620.05" y2="870.60" stroke="#e2e2e2" stroke-width="1.15" />
<line x1="622.40" y1="850.00" x2="622.40" y2="870.60" stroke="#e2e2e2" stroke-width="1.15" />
<line x1="624.75" y1="850.00" x2="624.75" y2="870.60" stroke="#e2e2e2" stroke-width="1.15" />
<line x1="627.10" y1="850.00" x2="627.10" y2="870.60" stroke="#e2e2e2" stroke-width="1.15" />
<line x1="629.45" y1="850.00" x2="629.45" y2="870.60" stroke="#e2e2e2" stroke-width="1.15" />
<line x1="631.80" y1="850.00" x2="631.80" y2="870.60" stroke="#e2e2e2" stroke-width="1.15" />
<line x1="634.15" y1="850.00" x2="634.15" y2="870.60" stroke="#e2e2e2" stroke-width="1.15" />
<line x1="636.50" y1="850.00" x2="636.50" y2="870.60" stroke="#e2e2e2" stroke-width="1.15" />
<line x1="638.85" y1="850.00" x2="638.85" y2="870.60" stroke="#e2e2e2" stroke-width="1.15" />
<line x1="641.20" y1="850.00" x2="641.20" y2="870.60" stroke="#e2e2e2" stroke-width="1.15" />
<line x1="643.55" y1="850.00" x2="643.55" y2="870.60" stroke="#e2e2e2" stroke-width="1.15" />
<line x1="645.90" y1="850.00" x2="645.90" y2="870.60" stroke="#e2e2e2" stroke-width="1.15" />
<line x1="648.25" y1="850.00" x2="648.25" y2="870.60" stroke="#e2e2e2" stroke-width="1.15" />
<line x1="650.60" y1="850.00" x2="650.60" y2="870.60" stroke="#e2e2e2" stroke-width="1.15" />
<line x1="652.95" y1="850.00" x2="652.95" y2="870.60" stroke="#e2e2e2" stroke-width="1.15" />
<line x1="655.30" y1="850.00" x2="655.30" y2="870.60" stroke="#e2e2e2" stroke-width="1.15" />
<path d="M603.2 871.4 L603.2 879 L657 879 L657 871.4" stroke="#111" stroke-width="1.2" fill="none" />
<text x="519.2" y="16.8" font-size="19" text-anchor="middle" textLength="27.5" lengthAdjust="spacingAndGlyphs"><tspan font-size="17" dy="0">Ø</tspan><tspan dy="0">19</tspan></text>
<text x="630.6" y="75.1" font-size="19" text-anchor="middle" textLength="37.3" lengthAdjust="spacingAndGlyphs"><tspan font-size="17" dy="0">Ø</tspan><tspan dy="0">120</tspan></text>
</svg>
</body></html>
